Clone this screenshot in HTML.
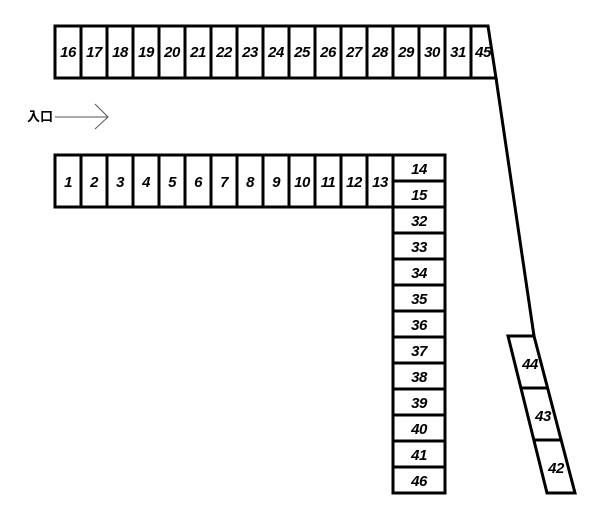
<!DOCTYPE html>
<html><head><meta charset="utf-8"><style>
html,body{margin:0;padding:0;background:#fff;width:600px;height:518px;overflow:hidden}
svg{display:block}
text{font-family:"Liberation Sans","Noto Sans CJK JP",sans-serif;font-weight:bold;font-style:italic;font-size:15px;letter-spacing:-0.5px;text-anchor:middle;fill:#000}
</style></head><body>
<svg width="600" height="518" viewBox="0 0 600 518" xmlns="http://www.w3.org/2000/svg">
<g fill="none" stroke="#000" stroke-width="3">
<path d="M55 26 H488 L496 78 H55 Z"/>
<path d="M81 26V78M107 26V78M133 26V78M159 26V78M185 26V78M211 26V78M237 26V78M263 26V78M289 26V78M315 26V78M341 26V78M367 26V78M393 26V78M419 26V78M445 26V78M471 26V78"/>
<path d="M496 78 L534 336"/>
<path d="M55 155 H445 V493 H393 V207 H55 Z"/>
<path d="M81 155V207M107 155V207M133 155V207M159 155V207M185 155V207M211 155V207M237 155V207M263 155V207M289 155V207M315 155V207M341 155V207M367 155V207M393 155V207"/>
<path d="M393 181H445M393 207H445M393 233H445M393 259H445M393 285H445M393 311H445M393 337H445M393 363H445M393 389H445M393 415H445M393 441H445M393 467H445"/>
<path d="M508 336 H534 L575 493 H547 Z"/>
<path d="M521 388H548M534 440H561"/>
</g>
<g stroke="#555" stroke-width="1" fill="none">
<path d="M55 117H108M95 104L108 117L95 129"/>
</g>
<text x="40" y="121" style="font-style:normal;font-size:13px;letter-spacing:0">入口</text>
<g>
<text x="68" y="57">16</text><text x="94" y="57">17</text><text x="120" y="57">18</text><text x="146" y="57">19</text><text x="172" y="57">20</text><text x="198" y="57">21</text><text x="224" y="57">22</text><text x="250" y="57">23</text><text x="276" y="57">24</text><text x="302" y="57">25</text><text x="328" y="57">26</text><text x="354" y="57">27</text><text x="380" y="57">28</text><text x="406" y="57">29</text><text x="432" y="57">30</text><text x="458" y="57">31</text><text x="483" y="57">45</text>
<text x="68" y="187">1</text><text x="94" y="187">2</text><text x="120" y="187">3</text><text x="146" y="187">4</text><text x="172" y="187">5</text><text x="198" y="187">6</text><text x="224" y="187">7</text><text x="250" y="187">8</text><text x="276" y="187">9</text><text x="302" y="187">10</text><text x="328" y="187">11</text><text x="354" y="187">12</text><text x="380" y="187">13</text>
<text x="419" y="174">14</text><text x="419" y="200">15</text><text x="419" y="226">32</text><text x="419" y="252">33</text><text x="419" y="278">34</text><text x="419" y="304">35</text><text x="419" y="330">36</text><text x="419" y="356">37</text><text x="419" y="382">38</text><text x="419" y="408">39</text><text x="419" y="434">40</text><text x="419" y="460">41</text><text x="419" y="486">46</text>
<text x="530" y="369">44</text><text x="543" y="421">43</text><text x="556" y="473">42</text>
</g>
</svg>
</body></html>
